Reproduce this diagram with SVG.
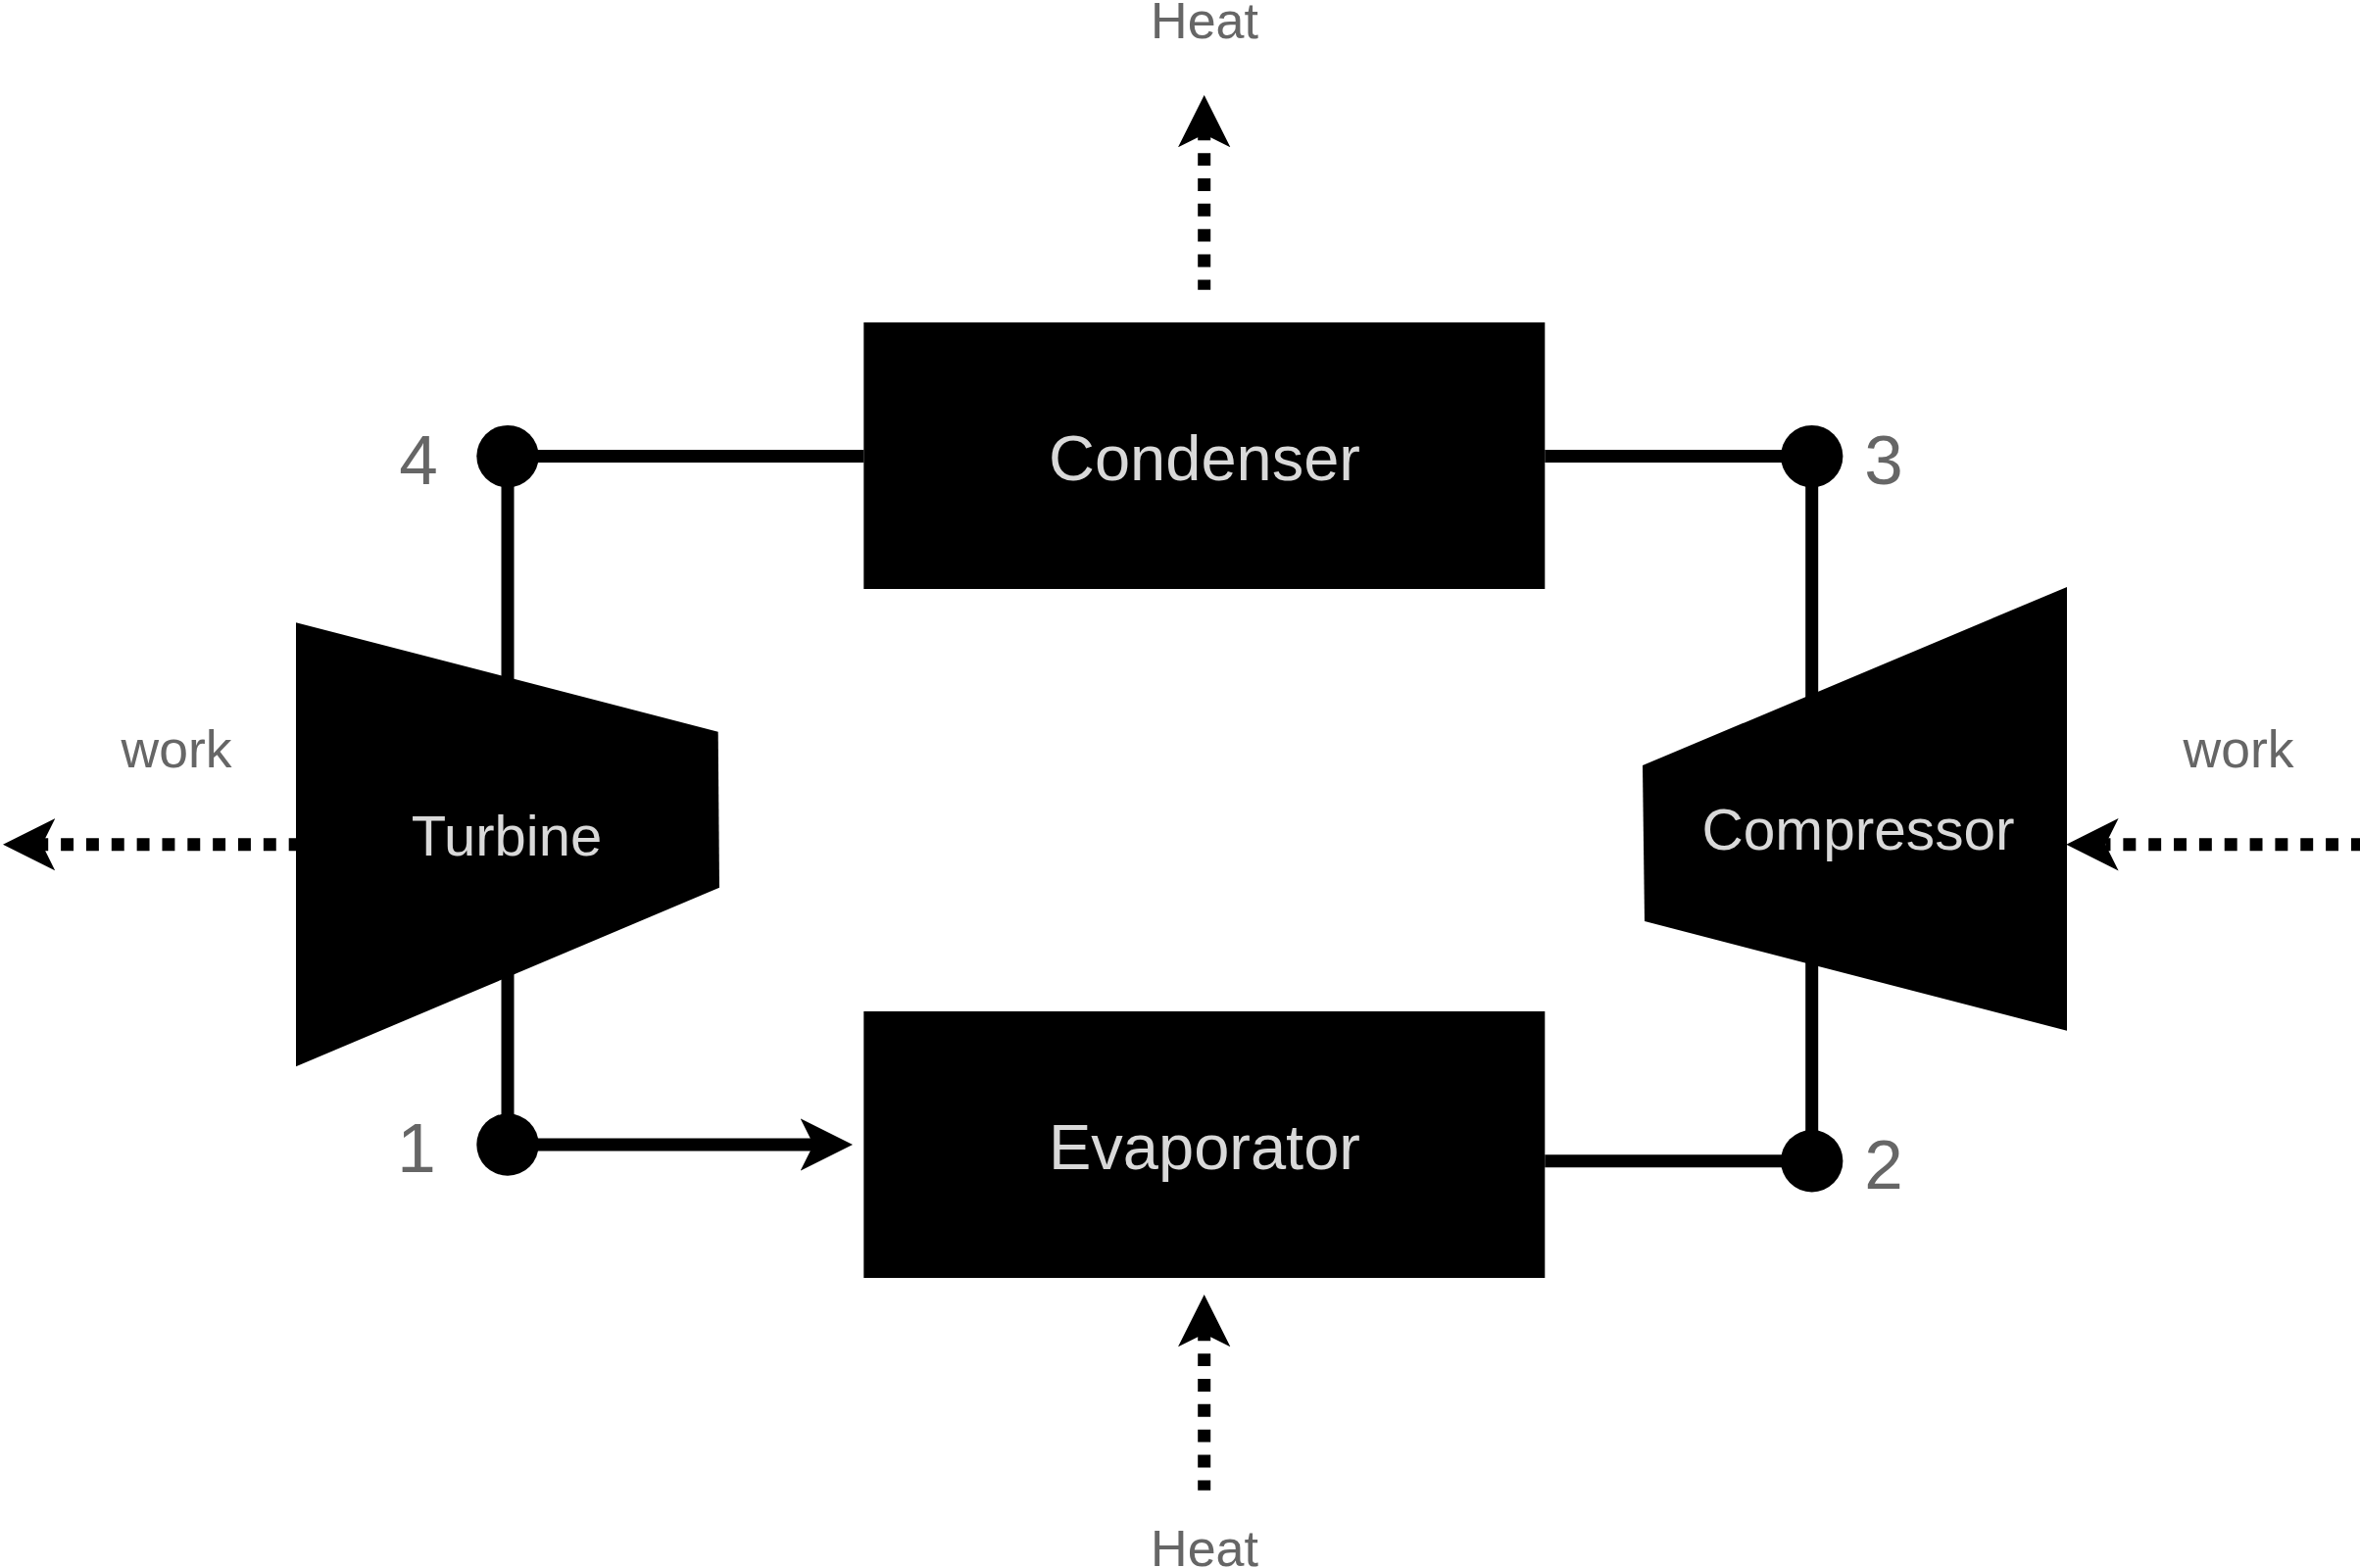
<svg xmlns="http://www.w3.org/2000/svg" width="2408" height="1600" viewBox="0 0 2408 1600">
  <style>
    text { font-family: "Liberation Sans", Arial, sans-serif; text-anchor: middle; }
    .shape { fill: #000; }
    .inner { fill: #d9d9d9; }
    .outer { fill: #666; }
    .num { font-size: 71px; }
    .lbl { font-size: 52px; }
    .wk { font-size: 53.5px; }
    .wire { fill: none; stroke: #000; stroke-width: 13; }
    .flow { fill: none; stroke: #000; stroke-width: 13; stroke-dasharray: 12.92 12.92; }
  </style>
  <defs>
    <marker id="head" markerUnits="userSpaceOnUse" markerWidth="54" markerHeight="54" refX="13.3" refY="26.7" orient="auto">
      <path d="M0,0 L53.3,26.7 L0,53.4 L13.3,26.7 Z" fill="#000"/>
    </marker>
  </defs>
  <rect width="2408" height="1600" fill="#fff"/>
  <g id="connectors">
    <path class="wire" d="M518,465.6 H881.3"/>
    <path class="wire" d="M1576.3,465.6 H1848.7"/>
    <path class="wire" d="M518,465.6 V760"/>
    <path class="wire" d="M518,960 V1168"/>
    <path class="wire" d="M1848.7,465.6 V800"/>
    <path class="wire" d="M1848.7,960 V1184.7"/>
    <path class="wire" d="M1576.3,1184.7 H1848.7"/>
    <path class="wire" d="M518,1168 H830" marker-end="url(#head)"/>
    <path class="flow" stroke-dashoffset="2.6" d="M1228.7,295.7 V137" marker-end="url(#head)"/>
    <path class="flow" stroke-dashoffset="2.6" d="M1228.7,1520.7 V1361" marker-end="url(#head)"/>
    <path class="flow" d="M307.6,861.8 H43" marker-end="url(#head)"/>
    <path class="flow" d="M2437.7,861.8 H2148.3" marker-end="url(#head)"/>
  </g>
  <g id="condenser">
    <rect class="shape" x="881.3" y="329" width="695" height="272"/>
    <text class="inner" x="1229" y="489.5" font-size="65">Condenser</text>
  </g>
  <g id="evaporator">
    <rect class="shape" x="881.3" y="1032" width="695" height="272"/>
    <text class="inner" x="1229" y="1192.5" font-size="65">Evaporator</text>
  </g>
  <g id="turbine">
    <polygon class="shape" points="302,635.3 732.7,746.7 734,905.7 302,1088.3"/>
    <text class="inner" x="517" y="872.7" font-size="58">Turbine</text>
  </g>
  <g id="compressor">
    <polygon class="shape" points="2109,599 1676,781 1678,940 2109,1051.7"/>
    <text class="inner" x="1896" y="867" font-size="58.6">Compressor</text>
  </g>
  <g id="point-4">
    <circle class="shape" cx="518" cy="465.6" r="31.7"/>
    <text class="outer num" x="427" y="494">4</text>
  </g>
  <g id="point-3">
    <circle class="shape" cx="1848.7" cy="465.6" r="31.7"/>
    <text class="outer num" x="1922" y="494">3</text>
  </g>
  <g id="point-1">
    <circle class="shape" cx="518" cy="1168" r="31.7"/>
    <text class="outer num" x="425" y="1195.7">1</text>
  </g>
  <g id="point-2">
    <circle class="shape" cx="1848.7" cy="1184.7" r="31.7"/>
    <text class="outer num" x="1922" y="1212.7">2</text>
  </g>
  <g id="label-heat-out"><text class="outer lbl" x="1229" y="38.7">Heat</text></g>
  <g id="label-heat-in"><text class="outer lbl" x="1229" y="1598">Heat</text></g>
  <g id="label-work-out"><text class="outer wk" x="180" y="783.3">work</text></g>
  <g id="label-work-in"><text class="outer wk" x="2284" y="783.3">work</text></g>
</svg>
